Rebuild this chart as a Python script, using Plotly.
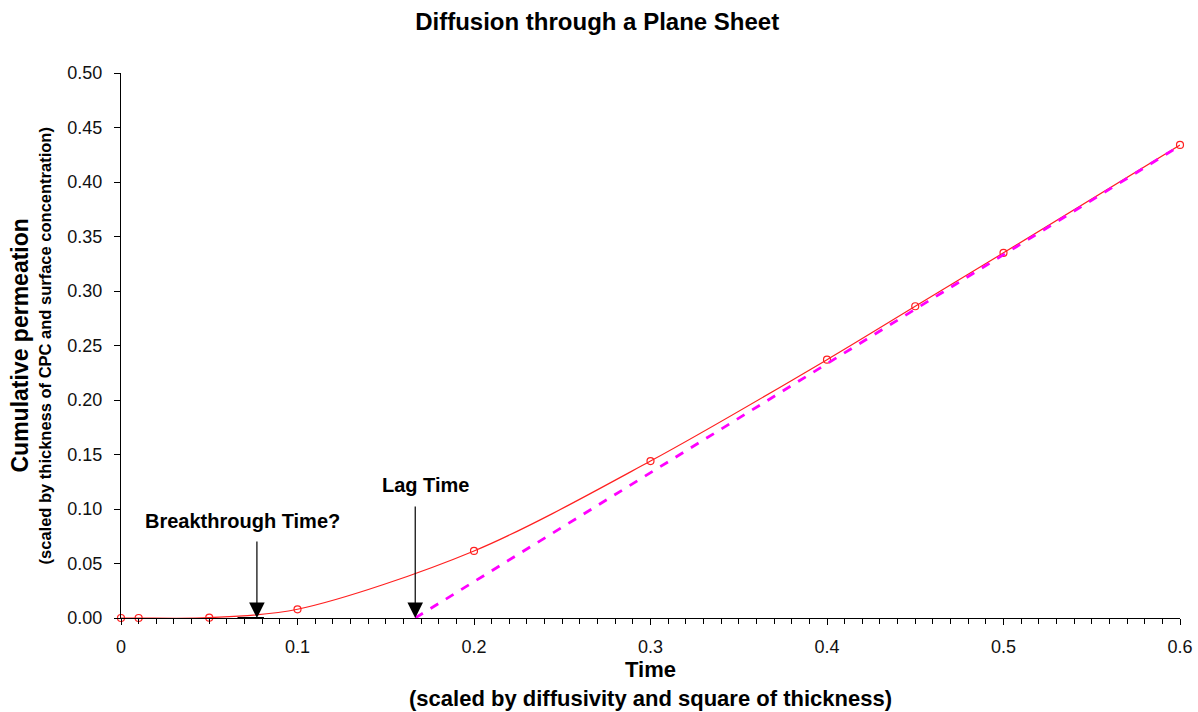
import plotly.graph_objects as go

# Data
time = [0, 0.01, 0.05, 0.1, 0.2, 0.3, 0.4, 0.45, 0.5, 0.6]
permeation = [0.0, 0.0, 0.0003, 0.008, 0.0615, 0.144, 0.237, 0.286, 0.335, 0.434]

asym_time = [0.1667, 0.6]
asym_perm = [0.0, 0.4333]

breakthrough_t = 0.077
lag_t = 0.1667
marker_segment_t = [0.066, 0.081]

FONT = "Arial, Liberation Sans, sans-serif"

fig = go.Figure()
fig.add_trace(go.Scatter(
    x=time, y=permeation, mode="lines+markers",
    line=dict(color="#ff2020", width=1.2, shape="spline", smoothing=0.9),
    marker=dict(symbol="circle-open", size=7, color="#ff2020", line=dict(width=1.2)),
    showlegend=False, cliponaxis=False,
))
fig.add_trace(go.Scatter(
    x=asym_time, y=asym_perm, mode="lines",
    line=dict(color="#ff00ff", width=2.8, dash="dash"),
    showlegend=False,
))

fig.add_shape(type="line", xref="x", yref="y",
              x0=marker_segment_t[0], x1=marker_segment_t[1], y0=0, y1=0,
              line=dict(color="black", width=2))

# Arrows
for t, top in [(breakthrough_t, 0.0716), (lag_t, 0.1037)]:
    fig.add_annotation(x=t, y=0, ax=t, ay=top,
                       xref="x", yref="y", axref="x", ayref="y", text="",
                       showarrow=True, arrowhead=2, arrowsize=2.6, arrowwidth=1.2,
                       arrowcolor="black", standoff=0)
fig.add_annotation(x=0.0691, y=0.089, xref="x", yref="y", showarrow=False,
                   text="<b>Breakthrough Time?</b>",
                   font=dict(family=FONT, size=20, color="black"))
fig.add_annotation(x=0.1728, y=0.122, xref="x", yref="y", showarrow=False,
                   text="<b>Lag Time</b>",
                   font=dict(family=FONT, size=20, color="black"))

# Y-axis title (two lines with different sizes)
fig.add_annotation(x=-0.0963, y=0.5, xref="paper", yref="paper", showarrow=False,
                   textangle=-90, xanchor="center", yanchor="middle",
                   text="<b>Cumulative permeation</b>",
                   font=dict(family=FONT, size=23, color="black"))
fig.add_annotation(x=-0.0718, y=0.5, xref="paper", yref="paper", showarrow=False,
                   textangle=-90, xanchor="center", yanchor="middle",
                   text="<b>(scaled by thickness of CPC and surface concentration)</b>",
                   font=dict(family=FONT, size=16.5, color="black"))

fig.update_layout(
    width=1198, height=712,
    paper_bgcolor="white", plot_bgcolor="white",
    margin=dict(l=121, r=18, t=73, b=94),
    font=dict(family=FONT, color="black"),
    title=dict(text="<b>Diffusion through a Plane Sheet</b>",
               x=0.4985, xanchor="center", y=0.97, yanchor="middle",
               font=dict(family=FONT, size=24, color="black")),
)
fig.update_xaxes(
    range=[0, 0.6], tickvals=[0, 0.1, 0.2, 0.3, 0.4, 0.5, 0.6],
    ticktext=["0", "0.1", "0.2", "0.3", "0.4", "0.5", "0.6"],
    showgrid=False, zeroline=False, showline=True, linecolor="black", linewidth=1,
    ticks="outside", ticklen=6, tickcolor="black", ticklabelstandoff=6,
    minor=dict(dtick=0.01, tick0=0, ticks="outside", ticklen=5, tickcolor="black", showgrid=False),
    tickfont=dict(family=FONT, size=18, color="#111"),
    automargin=False,
    title=dict(text="<b>Time</b><br><b>(scaled by diffusivity and square of thickness)</b>",
               font=dict(family=FONT, size=22, color="black"), standoff=6),
)
fig.update_yaxes(
    range=[0, 0.5], dtick=0.05, tickformat=".2f",
    showgrid=False, zeroline=False, showline=True, linecolor="black", linewidth=1,
    ticks="outside", ticklen=6, tickcolor="black", ticklabelstandoff=8,
    tickfont=dict(family=FONT, size=18, color="#111"),
    automargin=False,
)

fig.write_html("out.html")
